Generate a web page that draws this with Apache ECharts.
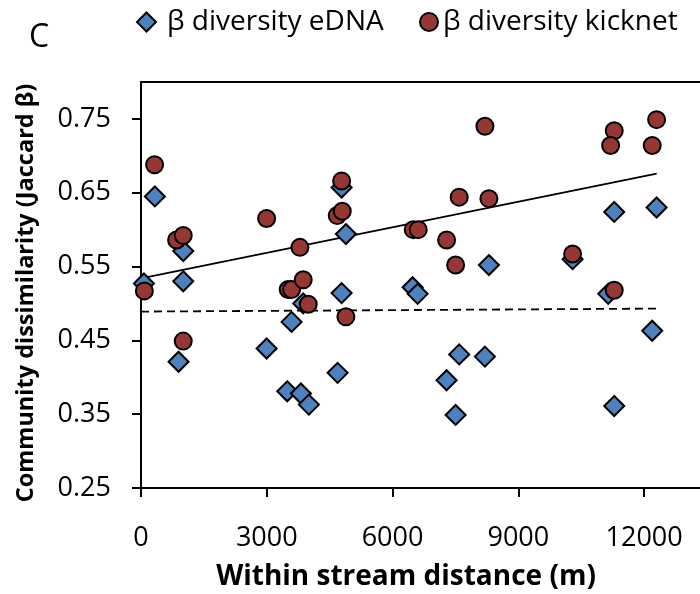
<!DOCTYPE html>
<html>
<head>
<meta charset="utf-8">
<script src="https://cdn.jsdelivr.net/npm/echarts@6/dist/echarts.min.js"></script>
<style>html,body{margin:0;padding:0;background:#fff;}#c{width:700px;height:594px;}</style>
</head>
<body>
<div id="c"></div>
<script>
const xTicks = [0, 3000, 6000, 9000, 12000];
const yTicks = [0.25, 0.35, 0.45, 0.55, 0.65, 0.75];

const ednaDist = [70, 331, 1007, 1007, 896, 2996, 4785, 4887, 8298, 4785, 6478, 6597, 3869, 3592,
  3488, 3814, 4005, 4689, 7590, 8203, 7289, 7504, 11287, 12298, 10294, 11144, 12193, 11287];
const ednaBeta = [0.527, 0.645, 0.571, 0.530, 0.421, 0.439, 0.657, 0.594, 0.552, 0.514, 0.522, 0.513, 0.500, 0.475,
  0.381, 0.378, 0.363, 0.406, 0.431, 0.428, 0.396, 0.349, 0.624, 0.630, 0.560, 0.513, 0.463, 0.361];

const kickDist = [80, 324, 849, 1007, 1007, 2996, 3790, 8203, 4785, 4680, 4800, 6493, 6612, 7590,
  8298, 7289, 7504, 3511, 3592, 3869, 3989, 4887, 11287, 11201, 12298, 12193, 10294, 11287];
const kickBeta = [0.517, 0.688, 0.586, 0.592, 0.449, 0.615, 0.576, 0.740, 0.666, 0.619, 0.625, 0.600, 0.600, 0.644,
  0.642, 0.586, 0.552, 0.519, 0.519, 0.532, 0.499, 0.482, 0.734, 0.714, 0.749, 0.714, 0.567, 0.518];

const trendX = [0, 12300];
const kickTrendY = [0.534, 0.676];
const ednaTrendY = [0.489, 0.493];

const zip = (a, b) => a.map((v, i) => [v, b[i]]);
const FONT = 'Open Sans';
const X_MAX = 13333;

const chart = echarts.init(document.getElementById('c'), null, {renderer: 'canvas'});
chart.setOption({
  animation: false,
  backgroundColor: '#fff',
  grid: {left: 141, top: 82, right: 0, height: 406, show: false},
  xAxis: [{
    type: 'value', min: 0, max: X_MAX,
    axisLine: {show: true, onZero: false, lineStyle: {color: '#000', width: 2}},
    axisTick: {show: true, length: 9, customValues: xTicks, lineStyle: {color: '#000', width: 2}},
    axisLabel: {color: '#000', fontFamily: FONT, fontSize: 27, margin: 37, customValues: xTicks,
      formatter: v => String(v)},
    splitLine: {show: false}
  }, {
    type: 'value', min: 0, max: X_MAX, position: 'top',
    axisLine: {show: true, onZero: false, lineStyle: {color: '#000', width: 2}},
    axisTick: {show: false}, axisLabel: {show: false}, splitLine: {show: false}
  }],
  yAxis: {
    type: 'value', min: 0.25, max: 0.80,
    axisLine: {show: true, onZero: false, lineStyle: {color: '#000', width: 2}},
    axisTick: {show: true, length: 9, customValues: yTicks, lineStyle: {color: '#000', width: 2}},
    axisLabel: {color: '#000', fontFamily: FONT, fontSize: 27, margin: 30, customValues: yTicks,
      formatter: v => v.toFixed(2)},
    splitLine: {show: false}
  },
  legend: [
    {data: ['β diversity eDNA'], left: 131, top: 3, itemWidth: 19, itemHeight: 19,
      textStyle: {fontFamily: FONT, fontSize: 28, color: '#000', padding: [0, 0, 0, 6]}},
    {data: ['β diversity kicknet'], left: 414, top: 3, itemWidth: 18, itemHeight: 18,
      textStyle: {fontFamily: FONT, fontSize: 28, color: '#000'}}
  ],
  graphic: [
    {type: 'text', left: 29, top: 22, style: {text: 'C', fontFamily: FONT, fontSize: 32, fill: '#000'}},
    {type: 'text', x: 26, y: 293, rotation: Math.PI / 2,
      style: {text: 'Community dissimilarity (Jaccard β)', fontFamily: FONT, fontWeight: 'bold', fontSize: 23.5,
        fill: '#000', align: 'center', verticalAlign: 'middle'}},
    {type: 'text', x: 406, y: 577,
      style: {text: 'Within stream distance (m)', fontFamily: FONT, fontWeight: 'bold', fontSize: 28,
        fill: '#000', align: 'center', verticalAlign: 'middle'}}
  ],
  series: [
    {name: 'eDNA trend', type: 'line', data: zip(trendX, ednaTrendY), symbol: 'none', silent: true,
      lineStyle: {color: '#000', width: 1.8, type: [8, 5]}, z: 1},
    {name: 'kicknet trend', type: 'line', data: zip(trendX, kickTrendY), symbol: 'none', silent: true,
      lineStyle: {color: '#000', width: 1.8}, z: 1},
    {name: 'β diversity eDNA', type: 'scatter', data: zip(ednaDist, ednaBeta), symbol: 'diamond', symbolSize: 20,
      itemStyle: {color: '#4F81BD', borderColor: '#000', borderWidth: 2, opacity: 1}, z: 2},
    {name: 'β diversity kicknet', type: 'scatter', data: zip(kickDist, kickBeta), symbol: 'circle', symbolSize: 17,
      itemStyle: {color: '#953735', borderColor: '#000', borderWidth: 2, opacity: 1}, z: 3}
  ]
});
</script>
</body>
</html>
